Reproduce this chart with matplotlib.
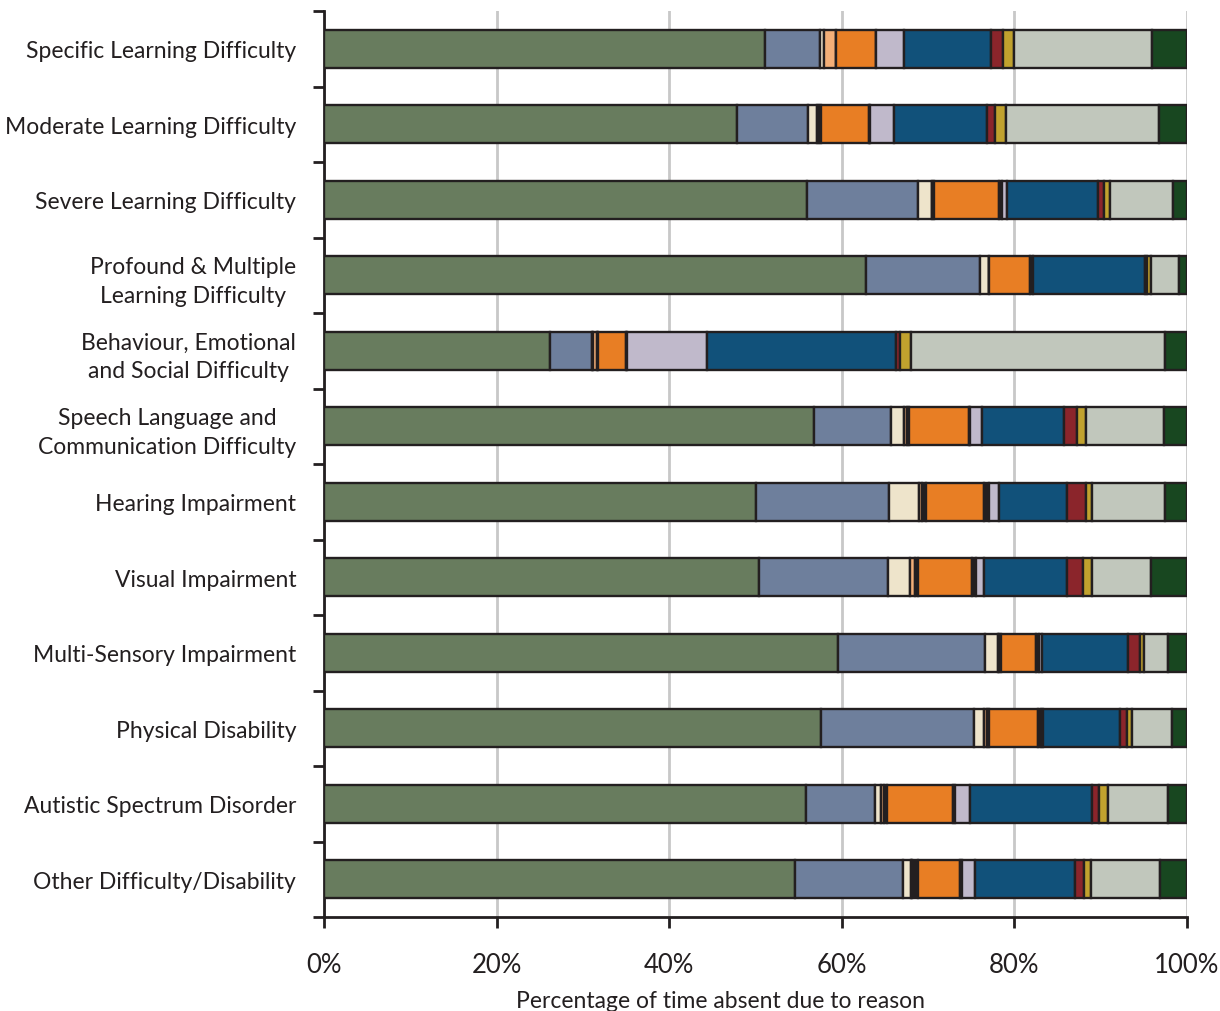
import numpy as np
import matplotlib
matplotlib.use("Agg")
import matplotlib.pyplot as plt
from matplotlib.ticker import FixedLocator, PercentFormatter

plt.rcParams['font.family'] = ['Lato', 'DejaVu Sans']

categories = [
    "Specific Learning Difficulty",
    "Moderate Learning Difficulty",
    "Severe Learning Difficulty",
    "Profound & Multiple\nLearning Difficulty",
    "Behaviour, Emotional\nand Social Difficulty",
    "Speech Language and\nCommunication Difficulty",
    "Hearing Impairment",
    "Visual Impairment",
    "Multi-Sensory Impairment",
    "Physical Disability",
    "Autistic Spectrum Disorder",
    "Other Difficulty/Disability",
]

# share of absence (%) by reason, one value per category above
illness        = [51.1, 47.8, 56.0, 62.8, 26.2, 56.8, 50.1, 50.4, 59.6, 57.6, 55.9, 54.6]
medical        = [ 6.4,  8.3, 12.8, 13.2,  4.8,  8.9, 15.4, 15.0, 17.0, 17.7,  7.9, 12.5]
religious      = [ 0.4,  1.0,  1.6,  1.0,  0.2,  1.5,  3.5,  2.5,  1.5,  1.2,  0.8,  0.9]
study_leave    = [ 1.4,  0.3,  0.0,  0.1,  0.4,  0.3,  0.3,  0.6,  0.1,  0.3,  0.3,  0.1]
traveller      = [ 0.0,  0.2,  0.3,  0.0,  0.2,  0.3,  0.5,  0.3,  0.3,  0.3,  0.3,  0.7]
holiday        = [ 4.7,  5.6,  7.5,  4.7,  3.2,  6.9,  6.7,  6.3,  4.0,  5.6,  7.7,  4.9]
ext_holiday    = [ 0.0,  0.1,  0.4,  0.4,  0.1,  0.2,  0.5,  0.5,  0.4,  0.4,  0.2,  0.2]
excluded       = [ 3.2,  2.7,  0.6,  0.0,  9.3,  1.4,  1.2,  0.9,  0.3,  0.2,  1.8,  1.5]
other_auth     = [10.1, 10.8, 10.5, 12.9, 21.9,  9.5,  7.9,  9.6, 10.0,  8.9, 14.1, 11.6]
holiday_unauth = [ 1.4,  1.0,  0.7,  0.3,  0.5,  1.5,  2.2,  1.8,  1.3,  0.8,  0.8,  1.1]
late           = [ 1.2,  1.2,  0.7,  0.4,  1.2,  1.0,  0.7,  1.1,  0.5,  0.6,  1.0,  0.8]
other_unauth   = [16.1, 17.7,  7.3,  3.3, 29.4,  9.0,  8.5,  6.8,  2.8,  4.7,  7.0,  8.0]
no_reason      = [ 4.0,  3.3,  1.6,  0.9,  2.6,  2.7,  2.5,  4.2,  2.2,  1.7,  2.2,  3.1]

series = [illness, medical, religious, study_leave, traveller, holiday, ext_holiday,
          excluded, other_auth, holiday_unauth, late, other_unauth, no_reason]
colors = ["#687C5E", "#6E7F9C", "#EEE4CB", "#F3AF78", "#231F20", "#E87E24", "#231F20",
          "#C0B9CB", "#11517A", "#8B252B", "#C1A22E", "#C1C7BC", "#184720"]

ink = "#231F20"

fig = plt.figure(figsize=(12.2, 10.12), dpi=100)
ax = fig.add_axes([324 / 1220, 1 - 918 / 1012, (1187 - 324) / 1220, (918 - 12) / 1012])

y = np.arange(len(categories))
left = np.zeros(len(categories))
for vals, c in zip(series, colors):
    vals = np.array(vals)
    ax.barh(y, vals, left=left, height=0.5, color=c, edgecolor=ink, linewidth=1.7, zorder=3)
    left += vals

ax.set_xlim(0, 100)
ax.set_ylim(len(categories) - 0.5, -0.5)

ax.xaxis.set_major_locator(FixedLocator([0, 20, 40, 60, 80, 100]))
ax.xaxis.set_major_formatter(PercentFormatter(decimals=0))
ax.grid(axis="x", color="#C8C8C8", linewidth=2, zorder=0)

ax.set_yticks(y)
ax.set_yticklabels(categories, ha="right", multialignment="center", linespacing=1.45)
ax.yaxis.set_minor_locator(FixedLocator(np.arange(-0.5, len(categories), 1.0)))
ax.tick_params(axis="y", which="major", length=0, pad=20, labelsize=16.5, labelcolor=ink)
ax.tick_params(axis="y", which="minor", length=8, width=2, color=ink)
ax.tick_params(axis="x", which="major", length=8, width=2, color=ink, direction="out",
               pad=17, labelsize=18.5, labelcolor=ink)

for side in ("top", "right"):
    ax.spines[side].set_visible(False)
for side in ("left", "bottom"):
    ax.spines[side].set_linewidth(2)
    ax.spines[side].set_color(ink)

fig.text(720 / 1220, 1 - 1002 / 1012, "Percentage of time absent due to reason",
         ha="center", va="center", fontsize=16.5, color=ink)

fig.savefig("out.png", dpi=100)
